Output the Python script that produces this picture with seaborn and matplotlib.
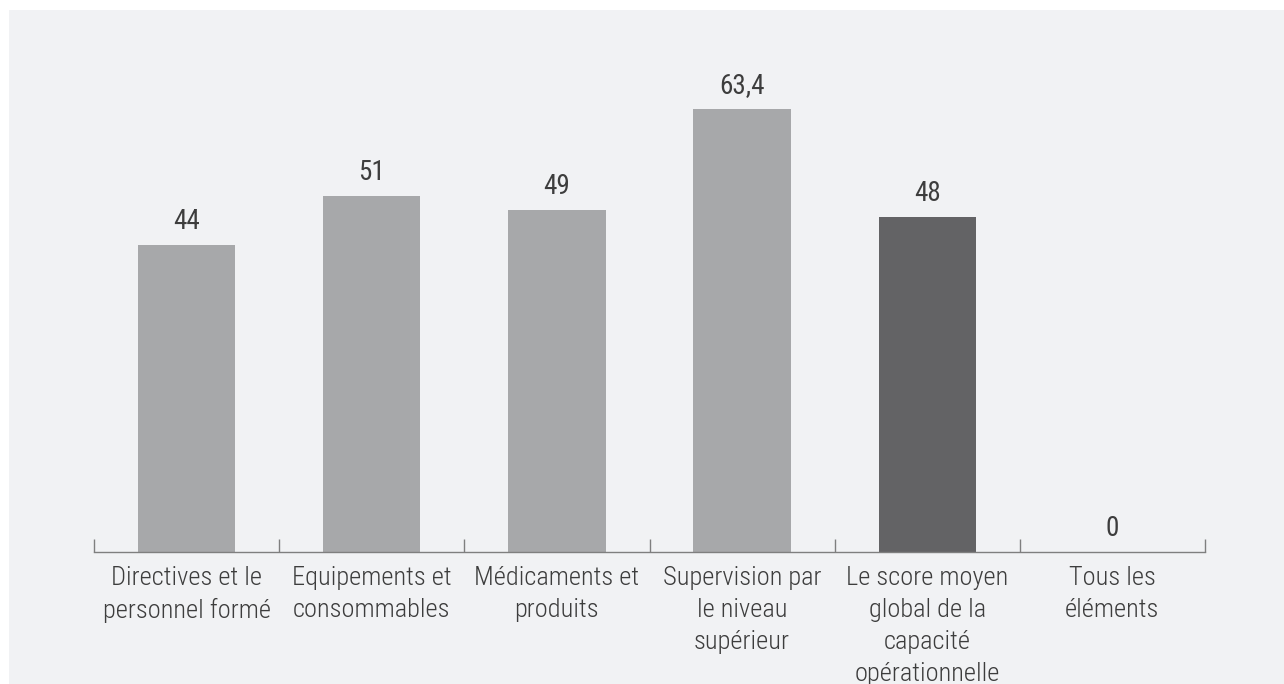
import matplotlib
matplotlib.use("Agg")
import matplotlib.pyplot as plt
import seaborn as sns
import pandas as pd
import numpy as np
from matplotlib.patches import Rectangle
from matplotlib import font_manager

categories = [
    "Directives et le\npersonnel formé",
    "Equipements et\nconsommables",
    "Médicaments et\nproduits",
    "Supervision par\nle niveau\nsupérieur",
    "Le score moyen\nglobal de la\ncapacité\nopérationnelle",
    "Tous les\néléments",
]
values = [44, 51, 49, 63.4, 48, 0]
labels = ["44", "51", "49", "63,4", "48", "0"]
kinds = ["comp", "comp", "comp", "comp", "total", "comp"]

bg = "#f1f2f4"
light = "#a7a8aa"
dark = "#636365"
txt = "#3d3d3d"

sns.set_theme(style="white")

cond_names = sorted({f.name for f in font_manager.fontManager.ttflist
                     if "condensed" in f.name.lower()},
                    key=lambda n: (0 if "roboto" in n.lower() else 1, n))
if cond_names:
    fam = cond_names[0]
    fs_tick, fs_val, wt, wt_val = 19, 19.5, "light", "normal"
else:
    fam = "Roboto"
    fs_tick, fs_val, wt, wt_val = 16.5, 17, "normal", "normal"
plt.rcParams["font.family"] = [fam, "DejaVu Sans"]

df = pd.DataFrame({"cat": categories, "val": values, "kind": kinds})

W, H = 1284, 684
fig = plt.figure(figsize=(W / 100, H / 100), dpi=100)
fig.patch.set_facecolor("white")
fig.add_artist(Rectangle((9 / W, 0), 1 - 9 / W, (H - 10) / H,
                         transform=fig.transFigure, facecolor=bg,
                         edgecolor="none", zorder=0))

ax_left, ax_right = 94 / W, 1205 / W
ax_bottom, ax_top = (H - 552) / H, (H - 20) / H
ax = fig.add_axes([ax_left, ax_bottom, ax_right - ax_left, ax_top - ax_bottom])
ax.set_facecolor("none")

sns.barplot(data=df, x="cat", y="val", hue="kind",
            palette={"comp": light, "total": dark},
            width=0.525, legend=False, ax=ax, dodge=False, saturation=1,
            linewidth=0, edgecolor="none")

ax.set_ylim(0, 532 / 6.98)
ax.set_xlim(-0.5, len(categories) - 0.5)
for i, (v, lab) in enumerate(zip(values, labels)):
    ax.annotate(lab, (i, v), xytext=(0, 11.5), textcoords="offset points",
                ha="center", va="baseline", fontsize=fs_val, color=txt,
                fontweight=wt_val)

for s in ["top", "right", "left"]:
    ax.spines[s].set_visible(False)
ax.spines["bottom"].set_color("#7f7f7f")
ax.spines["bottom"].set_linewidth(1.0)
ax.set_yticks([])
ax.set_xlabel("")
ax.set_ylabel("")

ax.set_xticks(range(len(categories)))
ax.set_xticklabels(categories, fontsize=fs_tick, color=txt, linespacing=1.41,
                   fontweight=wt)
ax.tick_params(axis="x", which="major", length=0, pad=10.2)
ax.set_xticks(np.arange(-0.5, len(categories)), minor=True)
ax.tick_params(axis="x", which="minor", direction="in", length=9.5,
               width=1.0, color="#7f7f7f", bottom=True)

fig.savefig("out.png", dpi=100, facecolor="white")
